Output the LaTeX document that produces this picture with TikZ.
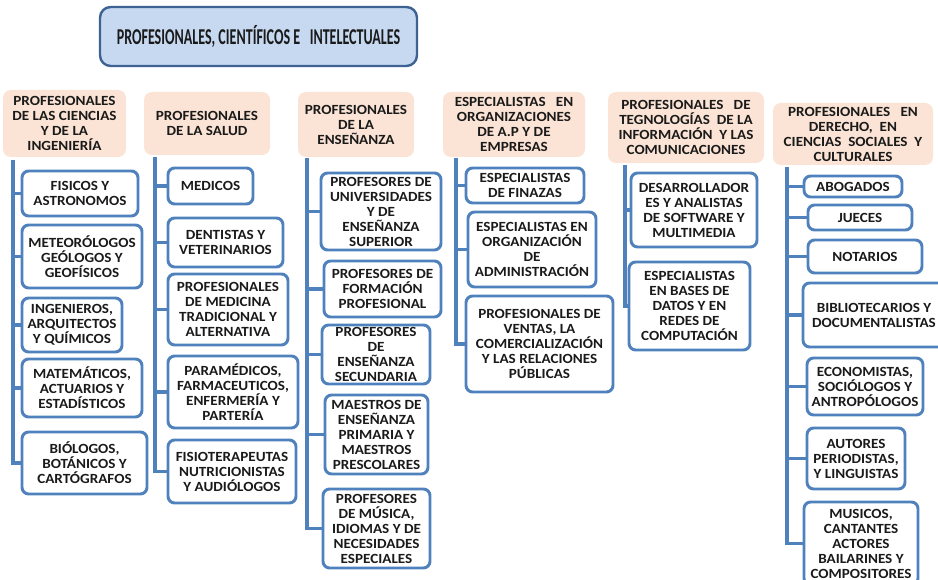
\documentclass[tikz,border=0pt]{standalone}
\usepackage{fontspec}
\setmainfont{Carlito}
\newfontfamily\bodyf[FakeStretch=1.08]{Carlito}
\newfontfamily\titlef[FakeStretch=0.62]{Carlito}
\definecolor{leafblue}{HTML}{4F81BD}
\definecolor{titleblue}{HTML}{C6D9F1}
\definecolor{titleedge}{HTML}{3E6392}
\definecolor{peach}{HTML}{FBE4D5}
\definecolor{txt}{HTML}{1A1A1A}
\tikzset{
  sz/.style 2 args={minimum width=#1*0.75pt, minimum height=#2*0.75pt},
  bodytext/.style={font=\bodyf\bfseries\fontsize{10.5}{11.25}\selectfont, text=txt, align=center, inner sep=0pt},
  leaf/.style={bodytext, draw=leafblue, line width=2.2pt, rounded corners=5pt, fill=white},
  head/.style={bodytext, fill=peach, rounded corners=6pt},
  titlebox/.style={draw=titleedge, line width=1.8pt, fill=titleblue, rounded corners=8pt,
     font=\titlef\bfseries\fontsize{17}{20}\selectfont, text=txt, inner sep=0pt},
  conn/.style={draw=leafblue, line width=2.3pt},
}
\begin{document}
\begin{tikzpicture}[x=0.75pt,y=-0.75pt]
\useasboundingbox (0,0) rectangle (938,580);

\node[titlebox, sz={317}{59}] (top) at (258.5,36.5) {\raisebox{2pt}{PROFESIONALES, CIENTÍFICOS E\ \ \ INTELECTUALES}};

% headers
\node[head, sz={123}{67}] (h1) at (64.5,123.5) {PROFESIONALES\\DE LAS CIENCIAS\\Y DE LA\\INGENIERÍA};
\node[head, sz={126}{63}] (h2) at (207,123.5) {PROFESIONALES\\DE LA SALUD};
\node[head, sz={116}{65}] (h3) at (356,124.5) {PROFESIONALES\\DE LA\\ENSEÑANZA};
\node[head, sz={142}{65}] (h4) at (514,124.5) {ESPECIALISTAS\ \ \ EN\\ORGANIZACIONES\\DE A.P Y DE\\EMPRESAS};
\node[head, sz={156}{71}] (h5) at (686,127.5) {PROFESIONALES\ \ \ DE\\TEGNOLOGÍAS\ \ DE LA\\INFORMACIÓN\ \ Y LAS\\COMUNICACIONES};
\node[head, sz={160}{62}] (h6) at (853,134) {PROFESIONALES\ \ \ EN\\DERECHO,\ \ EN\\CIENCIAS\ \ SOCIALES\ \ Y\\CULTURALES};

% column 1
\node[leaf, sz={116}{45}] (c1a) at (80,193.5) {FISICOS Y\\ASTRONOMOS};
\node[leaf, sz={120}{63}] (c1b) at (82,256.5) {METEORÓLOGOS\\GEÓLOGOS Y\\GEOFÍSICOS};
\node[leaf, sz={100}{54}] (c1c) at (72,325) {INGENIEROS,\\ARQUITECTOS\\Y QUÍMICOS};
\node[leaf, sz={120}{58}] (c1d) at (82,388) {MATEMÁTICOS,\\ACTUARIOS Y\\ESTADÍSTICOS};
\node[leaf, sz={125}{62}] (c1e) at (84.5,463) {BIÓLOGOS,\\BOTÁNICOS Y\\CARTÓGRAFOS};

% column 2
\node[leaf, sz={85}{36}] (c2a) at (210.5,186) {MEDICOS};
\node[leaf, sz={115}{49}] (c2b) at (225.5,242.5) {DENTISTAS Y\\VETERINARIOS};
\node[leaf, sz={120}{71}] (c2c) at (228,309.5) {PROFESIONALES\\DE MEDICINA\\TRADICIONAL Y\\ALTERNATIVA};
\node[leaf, sz={130}{72}] (c2d) at (233,392) {PARAMÉDICOS,\\FARMACEUTICOS,\\ENFERMERÍA Y\\PARTERÍA};
\node[leaf, sz={128}{63}] (c2e) at (232,471.5) {FISIOTERAPEUTAS\\NUTRICIONISTAS\\Y AUDIÓLOGOS};

% column 3
\node[leaf, sz={120}{77}] (c3a) at (381,211.5) {PROFESORES DE\\UNIVERSIDADES\\Y DE\\ENSEÑANZA\\SUPERIOR};
\node[leaf, sz={117}{56}] (c3b) at (382.5,289) {PROFESORES DE\\FORMACIÓN\\PROFESIONAL};
\node[leaf, sz={108}{59}] (c3c) at (376,354.5) {PROFESORES\\DE\\ENSEÑANZA\\SECUNDARIA};
\node[leaf, sz={103}{79}] (c3d) at (376.5,434.5) {MAESTROS DE\\ENSEÑANZA\\PRIMARIA Y\\MAESTROS\\PRESCOLARES};
\node[leaf, sz={107}{79}] (c3e) at (376.5,528.5) {PROFESORES\\DE MÚSICA,\\IDIOMAS Y DE\\NECESIDADES\\ESPECIALES};

% column 4
\node[leaf, sz={118}{35}] (c4a) at (525,185.5) {ESPECIALISTAS\\DE FINAZAS};
\node[leaf, sz={128}{75}] (c4b) at (532,249.5) {ESPECIALISTAS EN\\ORGANIZACIÓN\\DE\\ADMINISTRACIÓN};
\node[leaf, sz={147}{96}] (c4c) at (539.5,344) {PROFESIONALES DE\\VENTAS, LA\\COMERCIALIZACIÓN\\Y LAS RELACIONES\\PÚBLICAS};

% column 5
\node[leaf, sz={126}{74}] (c5a) at (694,210) {DESARROLLADOR\\ES Y ANALISTAS\\DE SOFTWARE Y\\MULTIMEDIA};
\node[leaf, sz={121}{88}] (c5b) at (689.5,306) {ESPECIALISTAS\\EN BASES DE\\DATOS Y EN\\REDES DE\\COMPUTACIÓN};

% column 6
\node[leaf, sz={98}{21}] (c6a) at (853,186.5) {ABOGADOS};
\node[leaf, sz={104}{25}] (c6b) at (860,217.5) {JUECES};
\node[leaf, sz={114}{33}] (c6c) at (865,256.5) {NOTARIOS};
\node[leaf, sz={142}{64}] (c6d) at (874,315) {BIBLIOTECARIOS Y\\DOCUMENTALISTAS};
\node[leaf, sz={116}{57}] (c6e) at (865,386.5) {ECONOMISTAS,\\SOCIÓLOGOS Y\\ANTROPÓLOGOS};
\node[leaf, sz={98}{61}] (c6f) at (856,458.5) {AUTORES\\PERIODISTAS,\\Y LINGUISTAS};
\node[leaf, sz={114}{83}] (c6g) at (861,543.5) {MUSICOS,\\CANTANTES\\ACTORES\\BAILARINES Y\\COMPOSITORES};

% trunks
\coordinate (t1) at (13,160);
\coordinate (t2) at (155,157);
\coordinate (t3) at (307,158);
\coordinate (t4) at (456,158);
\coordinate (t5) at (625,165);
\coordinate (t6) at (787,167);

\draw[conn] (t1) |- (c1e.west);
\foreach \n in {c1a,c1b,c1c,c1d} \draw[conn] (t1 |- \n.west) -- (\n.west);
\draw[conn] (t2) |- (c2e.west);
\foreach \n in {c2a,c2b,c2c,c2d} \draw[conn] (t2 |- \n.west) -- (\n.west);
\draw[conn] (t3) |- (c3e.west);
\foreach \n in {c3a,c3b,c3c,c3d} \draw[conn] (t3 |- \n.west) -- (\n.west);
\draw[conn] (t4) |- (c4c.west);
\foreach \n in {c4a,c4b} \draw[conn] (t4 |- \n.west) -- (\n.west);
\draw[conn] (t5) |- (c5b.west);
\draw[conn] (t5 |- c5a.west) -- (c5a.west);
\draw[conn] (t6) |- (c6g.west);
\foreach \n in {c6a,c6b,c6c,c6d,c6e,c6f} \draw[conn] (t6 |- \n.west) -- (\n.west);
\end{tikzpicture}
\end{document}
